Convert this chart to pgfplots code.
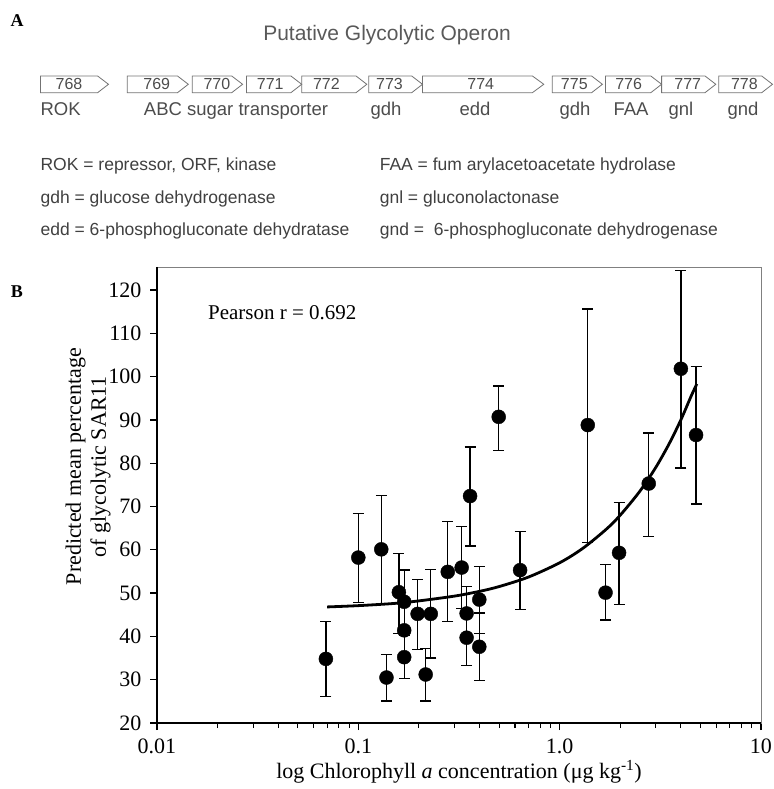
\documentclass[border=0pt]{standalone}
\usepackage{fontspec}
\setmainfont{Liberation Serif}
\newfontfamily\arial{Liberation Sans}
\usepackage{pgfplots}
\pgfplotsset{compat=1.18}
\usepackage{pgfplotstable}

\pgfplotstableread{
x y ep em
0.069 34.8 8.6 8.7
0.100 58.2 10.2 10.4
0.130 60.1 12.5 12.5
0.159 50.2 9.0 9.6
0.169 48.0 7.3 7.3
0.169 41.4 6.5 6.5
0.169 35.2 5.0 4.9
0.138 30.5 5.3 5.4
0.197 45.2 7.9 8.3
0.216 31.2 6.0 6.1
0.229 45.2 10.2 10.2
0.278 54.9 11.7 11.5
0.326 55.9 9.4 9.4
0.345 45.3 6.2 6.2
0.345 39.7 6.5 6.5
0.359 72.4 11.3 11.5
0.399 48.5 7.6 7.8
0.399 37.6 7.8 7.8
0.498 90.7 7.1 7.7
0.636 55.3 9.0 9.1
1.379 88.8 26.8 27.1
1.690 50.1 6.5 6.3
1.973 59.3 11.6 12.0
2.770 75.3 11.7 12.3
4.000 101.8 22.7 22.9
4.760 86.5 15.8 15.9
}\pts

\newcommand\gene[5]{%
  \draw[draw=black!55, line width=0.8pt] (#1,713) -- (#2,713) -- (#3,704.7) -- (#2,696.3) -- (#1,696.3) -- cycle;
  \node[font=\arial\fontsize{16}{18}\selectfont, text=black!70, inner sep=0pt] at (#5,704.7) {#4};}

\begin{document}
\begin{tikzpicture}[x=1pt,y=1pt]
\useasboundingbox (0,0) rectangle (773,789);
% ---------- panel A ----------
\node[font=\bfseries\fontsize{18}{20}\selectfont] at (17,768) {A};
\node[font=\arial\fontsize{21}{23}\selectfont, text=black!65] at (387,754) {Putative Glycolytic Operon};
\gene{40.4}{97.6}{108.5}{768}{69}
\gene{127.2}{177.5}{188.3}{769}{156.8}
\gene{192.3}{231.7}{242.6}{770}{216.9}
\gene{246.5}{290.9}{301.7}{771}{270.2}
\gene{301.7}{356}{366.8}{772}{326.4}
\gene{368.8}{411.7}{422.5}{773}{389.5}
\gene{422.5}{532.4}{543.8}{774}{480.7}
\gene{552.2}{591.6}{602.4}{775}{574.3}
\gene{605.4}{650.8}{661.6}{776}{628.6}
\gene{661.6}{705}{715.8}{777}{687.7}
\gene{718.8}{761.7}{772.5}{778}{744.4}
\begin{scope}[every node/.style={font=\arial\fontsize{18.5}{20}\selectfont, text=black!70, inner sep=0pt, anchor=base}]
\node[anchor=base west] at (40.4,673) {ROK};
\node at (236,673) {ABC sugar transporter};
\node at (386,673) {gdh};
\node at (475,673) {edd};
\node at (575,673) {gdh};
\node at (631,673) {FAA};
\node at (681,673) {gnl};
\node at (743,673) {gnd};
\end{scope}
\begin{scope}[every node/.style={font=\arial\fontsize{17.5}{19}\selectfont, text=black!75, inner sep=0pt, anchor=base west}]
\node at (40.4,618) {ROK = repressor, ORF, kinase};
\node at (40.4,585) {gdh = glucose dehydrogenase};
\node at (40.4,553) {edd = 6-phosphogluconate dehydratase};
\node at (379.6,618) {FAA = fum arylacetoacetate hydrolase};
\node at (379.6,585) {gnl = gluconolactonase};
\node at (379.6,553) {gnd = \ 6-phosphogluconate dehydrogenase};
\end{scope}
% ---------- panel B ----------
\node[font=\bfseries\fontsize{18}{20}\selectfont] at (17,497) {B};
\begin{axis}[
  at={(157pt,66pt)}, anchor=south west,
  scale only axis, width=604pt, height=456pt,
  xmode=log, xmin=0.01, xmax=10, ymin=20, ymax=125.3,
  xtick={0.01,0.1,1,10}, xticklabels={0.01,0.1,1.0,10},
  ytick={20,30,...,120},
  tick pos=left, tick align=outside,
  major tick length=7pt, minor tick length=5pt,
  every major tick/.append style={black, line width=1.3pt},
  every minor tick/.append style={black, line width=1.1pt},
  axis line style={draw=black!50, line width=0.6pt},
  /pgf/number format/assume math mode=true,
  tick label style={font=\fontsize{22}{25}\selectfont},
  xticklabel style={yshift=-5pt},
  yticklabel style={xshift=-5pt},
  label style={font=\fontsize{22}{25}\selectfont},
  xlabel={log Chlorophyll \textit{a} concentration (μg kg\textsuperscript{-1})},
  ylabel={Predicted mean percentage\\of glycolytic SAR11},
  ylabel style={align=center, at={(axis description cs:-0.114,0.562)}, anchor=center},
  xlabel style={at={(axis description cs:0.5,-0.107)}, anchor=center},
  clip=false,
]
\addplot[black, line width=2.8pt, smooth] coordinates {
(0.07,46.8) (0.1,47.1) (0.15,47.6) (0.2,48.2) (0.3,49.3) (0.4,50.4) (0.5,51.5)
(0.7,53.7) (1.0,57.0) (1.3,60.3) (1.7,64.7) (2.0,68.0) (2.5,73.5) (3.0,79.0)
(3.5,84.5) (4.0,90.0) (4.5,95.5) (4.8,98.3)};
\addplot[only marks, mark=*, mark size=7pt, black,
  error bars/.cd, y dir=both, y explicit,
  error bar style={line width=1.3pt, black},
  error mark options={rotate=90, mark size=5.5pt, line width=1.3pt, black}]
  table[x=x, y=y, y error plus=ep, y error minus=em] {\pts};
\draw[line width=1.6pt, black] (rel axis cs:0,1) -- (rel axis cs:0,0) -- (rel axis cs:1,0);
\node[anchor=west, font=\fontsize{21}{24}\selectfont, inner sep=0pt] at (axis cs:0.0179,114.7) {Pearson r = 0.692};
\end{axis}
\end{tikzpicture}
\end{document}
